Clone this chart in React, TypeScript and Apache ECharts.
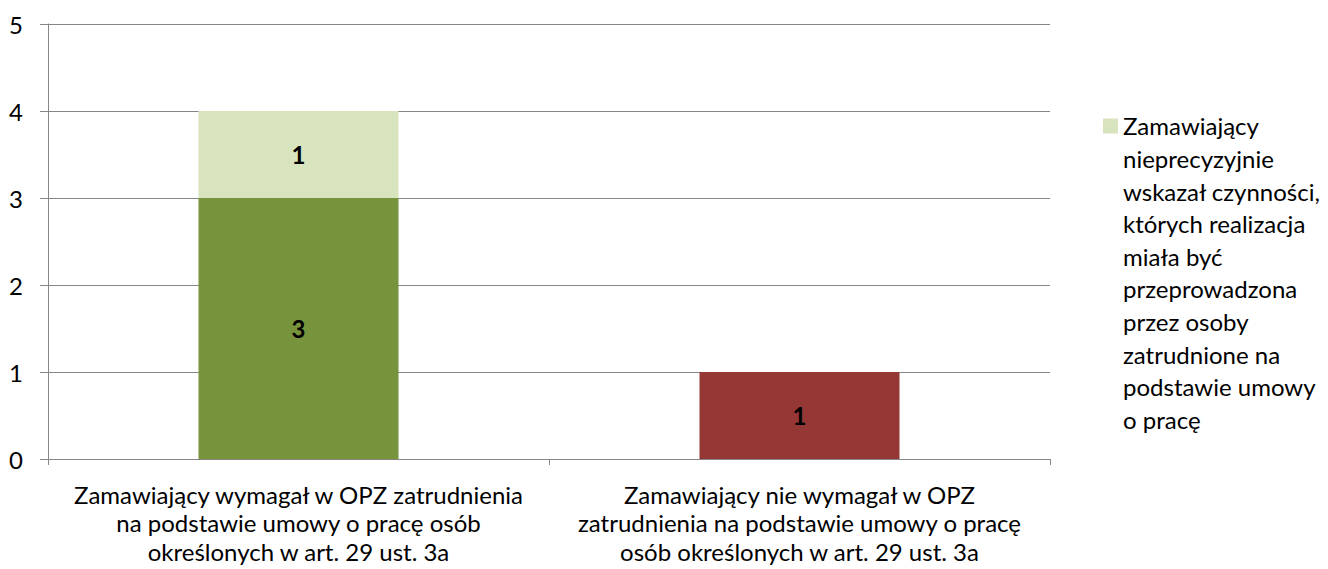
import React, { useEffect, useRef } from "react";
import * as echarts from "echarts";

const categories = [
  "Zamawiający wymagał w OPZ zatrudnienia\nna podstawie umowy o pracę osób\nokreślonych w art. 29 ust. 3a",
  "Zamawiający nie wymagał w OPZ\nzatrudnienia na podstawie umowy o pracę\nosób określonych w art. 29 ust. 3a",
];
const seriesPreciseName = "Zamawiający wskazał czynności precyzyjnie";
const seriesPreciseValues: (number | string)[] = [3, "-"];
const seriesImpreciseName =
  "Zamawiający\nnieprecyzyjnie\nwskazał czynności,\nktórych realizacja\nmiała być\nprzeprowadzona\nprzez osoby\nzatrudnione na\npodstawie umowy\no pracę";
const seriesImpreciseValues: (number | string)[] = [1, "-"];
const seriesNoneName = "Zamawiający nie wymagał";
const seriesNoneValues: (number | string)[] = ["-", 1];
const yTicks = { min: 0, max: 5, interval: 1 };

const FONT = "Lato";
const FS = 24;
const LEGEND_LINE = 32.6;
const LEGEND_LINES = 10;
const ICON = 15;

export default function App() {
  const ref = useRef<HTMLDivElement>(null);
  useEffect(() => {
    if (!ref.current) return;
    const chart = echarts.init(ref.current, null, { renderer: "svg" });
    const blockH = LEGEND_LINE * LEGEND_LINES;
    const iconTop = LEGEND_LINE / 2 - ICON / 2;
    const iconPath =
      `path://M0 ${iconTop}H${ICON}V${iconTop + ICON}H0Z M0 0H${ICON} M0 ${blockH}H${ICON}`;
    const label = {
      show: true,
      position: "inside",
      color: "#000",
      fontWeight: "bold",
      fontSize: FS,
      fontFamily: FONT,
    };
    chart.setOption({
      animation: false,
      textStyle: { fontFamily: FONT },
      grid: { left: 48, right: 278, top: 24, bottom: 110 },
      legend: {
        data: [{ name: seriesImpreciseName, icon: iconPath }],
        left: 1098,
        top: 121 - LEGEND_LINE / 2,
        orient: "vertical",
        itemWidth: ICON,
        itemHeight: blockH,
        selectedMode: false,
        textStyle: {
          fontFamily: FONT,
          fontSize: FS,
          color: "#000",
          lineHeight: LEGEND_LINE,
        },
      },
      xAxis: {
        type: "category",
        data: categories,
        axisLine: { show: true, lineStyle: { color: "#868686", width: 1 } },
        axisTick: { show: true, length: 6, lineStyle: { color: "#868686" } },
        axisLabel: {
          color: "#000",
          fontSize: FS,
          fontFamily: FONT,
          lineHeight: 28.5,
          margin: 21,
          interval: 0,
        },
      },
      yAxis: {
        type: "value",
        min: yTicks.min,
        max: yTicks.max,
        interval: yTicks.interval,
        axisLine: { show: true, lineStyle: { color: "#868686", width: 1 } },
        axisTick: { show: true, length: 8, lineStyle: { color: "#868686" } },
        splitLine: { show: true, lineStyle: { color: "#868686", width: 1 } },
        axisLabel: { color: "#000", fontSize: FS, fontFamily: FONT, margin: 25 },
      },
      series: [
        {
          name: seriesPreciseName,
          type: "bar",
          stack: "total",
          barWidth: 200,
          data: seriesPreciseValues,
          itemStyle: { color: "#77933C" },
          label,
        },
        {
          name: seriesImpreciseName,
          type: "bar",
          stack: "total",
          barWidth: 200,
          data: seriesImpreciseValues,
          itemStyle: { color: "#D7E4BD" },
          label,
        },
        {
          name: seriesNoneName,
          type: "bar",
          stack: "total",
          barWidth: 200,
          data: seriesNoneValues,
          itemStyle: { color: "#953735" },
          label,
        },
      ],
    });
    return () => chart.dispose();
  }, []);
  return (
    <div
      ref={ref}
      style={{ position: "fixed", left: 0, top: 0, width: 1328, height: 569, background: "#fff" }}
    />
  );
}
